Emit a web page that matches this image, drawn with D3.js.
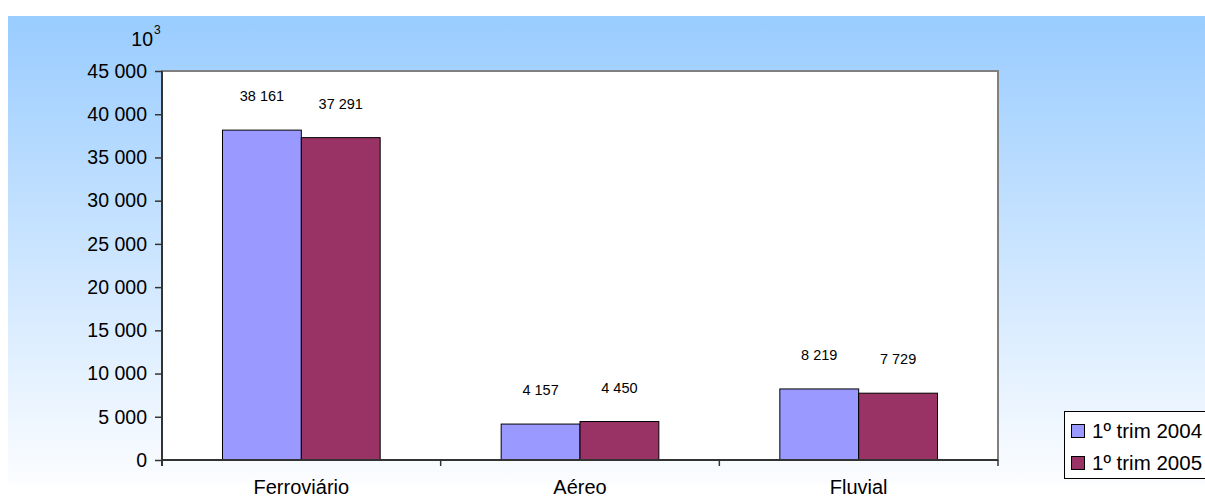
<!DOCTYPE html>
<html>
<head>
<meta charset="utf-8">
<script src="https://cdn.jsdelivr.net/npm/d3@7"></script>
<style>
    body { margin: 0; background: #fff; }
    text { font-family: "Liberation Sans", Arial, sans-serif; fill: #000; }
</style>
</head>
<body>
<div id="chart"></div>
<script>
//Datos
let categorias = ['Ferroviário', 'Aéreo', 'Fluvial'];
let series = ['1º trim 2004', '1º trim 2005'];
let valores_2004 = [38161, 4157, 8219];
let valores_2005 = [37291, 4450, 7729];
let ticks_y = [0, 5000, 10000, 15000, 20000, 25000, 30000, 35000, 40000, 45000];

//Colores
let color_first = '#9999FF', color_second = '#993366';

let data = categorias.map(function(c, i) {
    return { categoria: c, valores: [valores_2004[i], valores_2005[i]] };
});

let width = 1205, height = 499;
let margin = {top: 71, right: 207, bottom: 39, left: 162};

let svg = d3.select('#chart').append('svg')
    .attr('width', width)
    .attr('height', height);

//Fondo degradado
let defs = svg.append('defs');
let grad = defs.append('linearGradient')
    .attr('id', 'fondo')
    .attr('x1', 0).attr('y1', 0).attr('x2', 0).attr('y2', 1);
grad.append('stop').attr('offset', '0%').attr('stop-color', '#99CCFF');
grad.append('stop').attr('offset', '100%').attr('stop-color', '#FCFDFF');

svg.append('rect')
    .attr('x', 8).attr('y', 16)
    .attr('width', width - 8).attr('height', 469)
    .style('fill', 'url(#fondo)');

let x = d3.scaleBand()
    .domain(categorias)
    .range([margin.left, width - margin.right]);

let padding_grupo = 60.5;
let x1 = d3.scaleBand()
    .domain(series)
    .range([padding_grupo, x.bandwidth() - padding_grupo]);

let y = d3.scaleLinear()
    .domain([0, 45000])
    .range([height - margin.bottom, margin.top]);

let formato = function(d) { return d3.format(',')(d).replace(/,/g, ' '); };

//Área del gráfico
svg.append('rect')
    .attr('x', margin.left)
    .attr('y', margin.top)
    .attr('width', width - margin.right - margin.left)
    .attr('height', y(0) - margin.top)
    .style('fill', '#fff')
    .style('stroke', '#808080')
    .style('stroke-width', 2);

//Barras
let grupos = svg.selectAll('.grupo')
    .data(data)
    .enter()
    .append('g')
    .attr('class', 'grupo')
    .attr('transform', function(d) { return 'translate(' + x(d.categoria) + ',0)'; });

grupos.selectAll('.bar')
    .data(function(d) { return d.valores.map(function(v, i) { return {serie: series[i], valor: v}; }); })
    .enter()
    .append('rect')
    .attr('class', 'bar')
    .attr('x', function(d) { return x1(d.serie); })
    .attr('y', function(d) { return y(d.valor); })
    .attr('width', x1.bandwidth())
    .attr('height', function(d) { return y(0) - y(d.valor); })
    .style('fill', function(d, i) { return i == 0 ? color_first : color_second; })
    .style('stroke', '#000')
    .style('stroke-width', 1);

//Etiquetas de valor
grupos.selectAll('.etiqueta')
    .data(function(d) { return d.valores.map(function(v, i) { return {serie: series[i], valor: v}; }); })
    .enter()
    .append('text')
    .attr('class', 'etiqueta')
    .attr('x', function(d) { return x1(d.serie) + x1.bandwidth() / 2; })
    .attr('y', function(d) { return y(d.valor) - 29; })
    .attr('text-anchor', 'middle')
    .style('font-size', '14.5px')
    .text(function(d) { return formato(d.valor); });

//Eje Y
let yAxis = function(g) {
    g.call(d3.axisLeft(y).tickValues(ticks_y).tickFormat(formato).tickSize(7).tickPadding(8));
    g.call(function(g) { g.select('.domain').remove(); });
    g.call(function(g) { g.selectAll('.tick line').style('stroke', '#333').style('stroke-width', 1.5); });
    g.call(function(g) { g.selectAll('.tick text').style('font-size', '19.5px').style('font-family', '"Liberation Sans", Arial, sans-serif'); });
};
svg.append('g')
    .attr('transform', 'translate(' + margin.left + ',0)')
    .call(yAxis);

//Línea del eje Y
svg.append('line')
    .attr('x1', margin.left).attr('x2', margin.left)
    .attr('y1', margin.top).attr('y2', y(0) + 6)
    .style('stroke', '#333').style('stroke-width', 2);

//Eje X
svg.append('line')
    .attr('x1', margin.left).attr('x2', width - margin.right)
    .attr('y1', y(0)).attr('y2', y(0))
    .style('stroke', '#333').style('stroke-width', 2);

let limites = categorias.map(function(c) { return x(c); }).concat([x.range()[1]]);
svg.selectAll('.tick-x')
    .data(limites)
    .enter()
    .append('line')
    .attr('class', 'tick-x')
    .attr('x1', function(d) { return d; }).attr('x2', function(d) { return d; })
    .attr('y1', y(0)).attr('y2', y(0) + 6)
    .style('stroke', '#333').style('stroke-width', 1.5);

svg.selectAll('.cat')
    .data(categorias)
    .enter()
    .append('text')
    .attr('class', 'cat')
    .attr('x', function(d) { return x(d) + x.bandwidth() / 2; })
    .attr('y', 494)
    .attr('text-anchor', 'middle')
    .style('font-size', '20px')
    .text(function(d) { return d; });

//Unidad
svg.append('text')
    .attr('x', 153)
    .attr('y', 46)
    .attr('text-anchor', 'end')
    .style('font-size', '19.5px')
    .text('10');
svg.append('text')
    .attr('x', 154)
    .attr('y', 34)
    .style('font-size', '12px')
    .text('3');

//Leyenda
let leyenda = svg.append('g').attr('transform', 'translate(1064,411)');
leyenda.append('rect')
    .attr('x', 0.5).attr('y', 0.5)
    .attr('width', 160).attr('height', 67)
    .style('fill', '#fff')
    .style('stroke', '#000')
    .style('stroke-width', 1);

let items = leyenda.selectAll('.item')
    .data(series)
    .enter()
    .append('g')
    .attr('class', 'item')
    .attr('transform', function(d, i) { return 'translate(0,' + (i * 32) + ')'; });

items.append('rect')
    .attr('x', 7.5).attr('y', 13.5)
    .attr('width', 13).attr('height', 13)
    .style('fill', function(d, i) { return i == 0 ? color_first : color_second; })
    .style('stroke', '#000')
    .style('stroke-width', 1);

items.append('text')
    .attr('x', 28)
    .attr('y', 26.5)
    .style('font-size', '20.5px')
    .text(function(d) { return d; });
</script>
</body>
</html>
